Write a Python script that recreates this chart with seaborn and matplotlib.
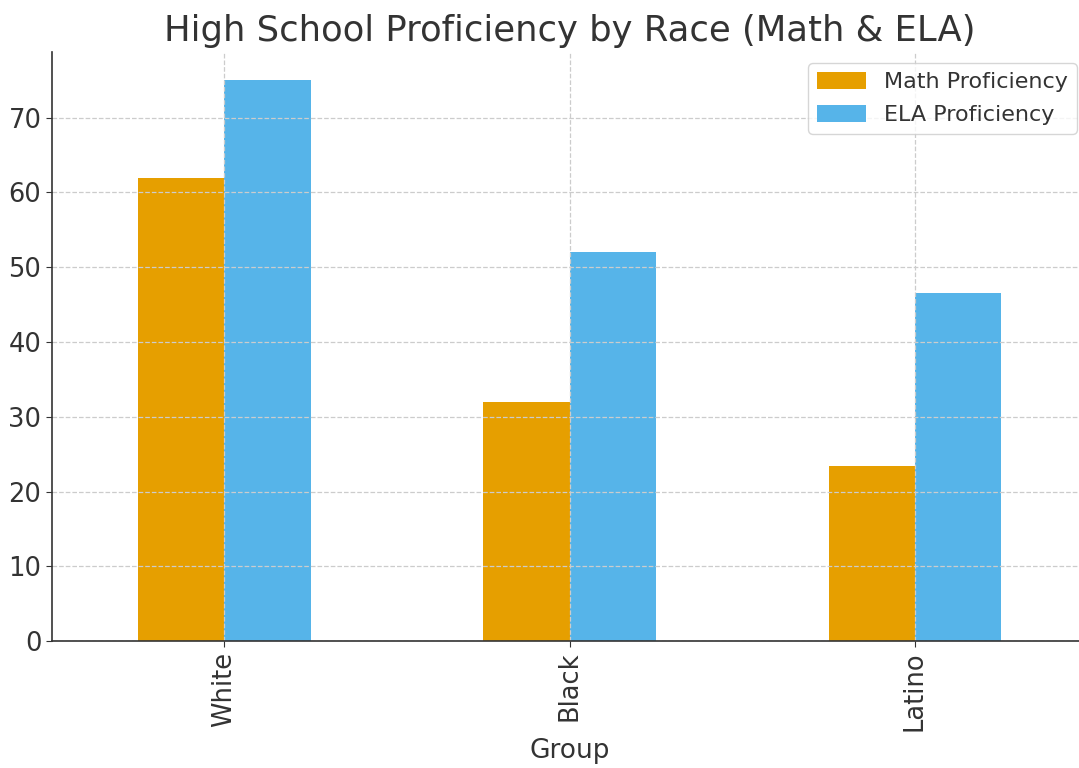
import matplotlib
matplotlib.use("Agg")
import matplotlib.pyplot as plt
import seaborn as sns
import pandas as pd

groups = ["White", "Black", "Latino"]
math_prof = [62, 32, 23.4]
ela_prof = [75, 52, 46.6]
series_names = ["Math Proficiency", "ELA Proficiency"]
colors = ["#E69F00", "#56B4E9"]

df = pd.DataFrame({
    "Group": groups * 2,
    "Subject": [series_names[0]] * 3 + [series_names[1]] * 3,
    "Proficiency": math_prof + ela_prof,
})

plt.rcParams["axes.axisbelow"] = "line"
plt.rcParams["text.color"] = "#333333"
plt.rcParams["axes.labelcolor"] = "#333333"
plt.rcParams["xtick.color"] = "#333333"
plt.rcParams["ytick.color"] = "#333333"

fig = plt.figure(figsize=(10.79, 7.68), dpi=100)
ax = fig.add_axes([0.048, 0.165, 0.96, 0.767])

sns.barplot(data=df, x="Group", y="Proficiency", hue="Subject",
            palette=colors, width=0.5, saturation=1, ax=ax,
            edgecolor="none", linewidth=0, errorbar=None)

ax.set_xlim(-0.5, 2.5)
ax.set_ylim(0, 78.75)
ax.set_yticks(range(0, 80, 10))
ax.grid(True, linestyle="--", color="#cccccc", linewidth=0.9)
for side in ("top", "right"):
    ax.spines[side].set_visible(False)
for side in ("left", "bottom"):
    ax.spines[side].set_color("#333333")
    ax.spines[side].set_linewidth(1.2)

ax.tick_params(axis="both", labelsize=18.5, length=4, color="#333333")
plt.setp(ax.get_xticklabels(), rotation=90)
ax.set_xlabel("Group", fontsize=19, labelpad=5)
ax.set_ylabel("")
ax.set_title("High School Proficiency by Race (Math & ELA)", fontsize=25.5, pad=8)

leg = ax.legend(title=None, fontsize=16, loc="upper right",
                bbox_to_anchor=(1.0, 1.0), frameon=True,
                handlelength=2.2, handleheight=0.8, labelspacing=0.55)
leg.get_frame().set_edgecolor("#cccccc")

fig.savefig("out.png", dpi=100)
